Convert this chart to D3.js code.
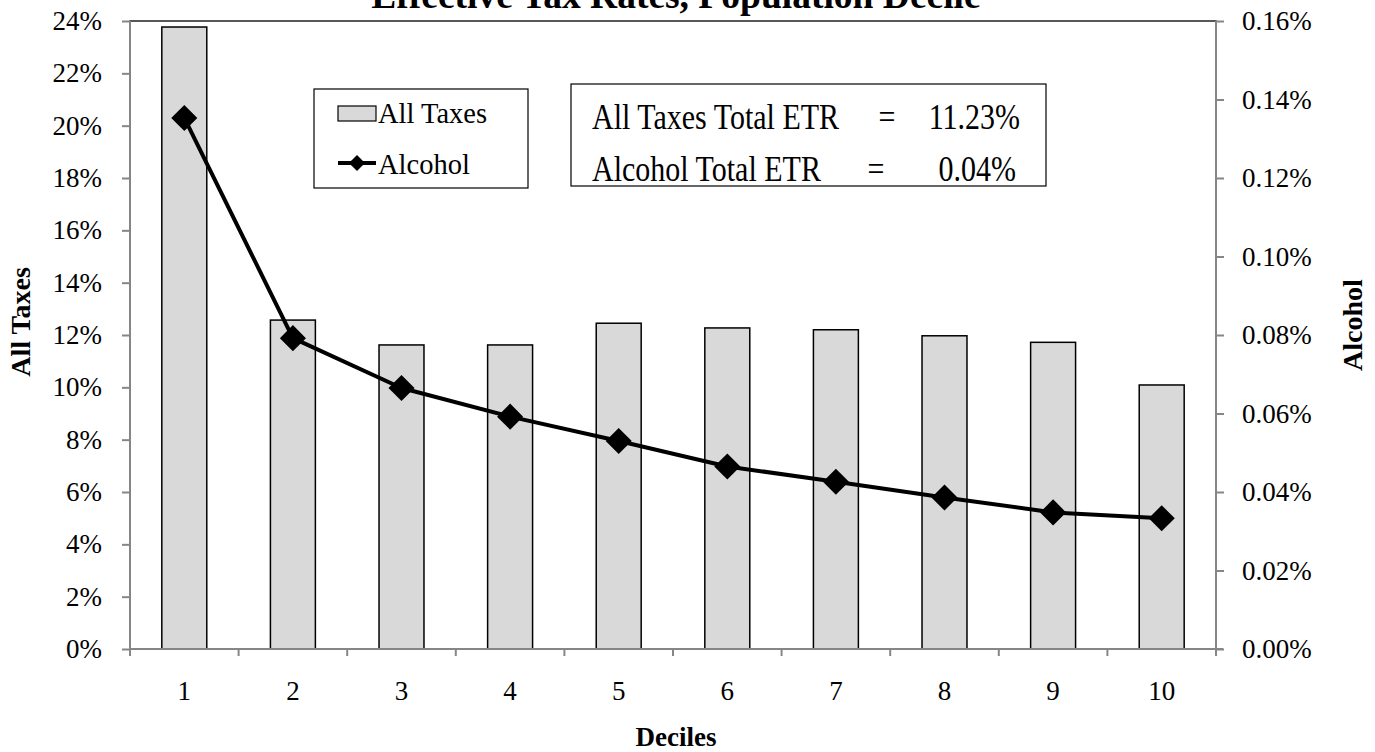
<!DOCTYPE html>
<html><head><meta charset="utf-8">
<script src="https://cdn.jsdelivr.net/npm/d3@7"></script>
<style>
html,body{margin:0;padding:0;background:#fff;}
svg{display:block;font-family:"Liberation Serif","Times New Roman",serif;}
</style></head>
<body><svg id="c" width="1375" height="752"></svg>
<script>
const deciles = ["1","2","3","4","5","6","7","8","9","10"];
const allTaxes = [23.77, 12.57, 11.62, 11.62, 12.45, 12.27, 12.20, 11.97, 11.72, 10.09];
const alcohol = [0.1353, 0.0792, 0.0665, 0.0592, 0.0530, 0.0465, 0.0426, 0.0386, 0.0348, 0.0333];
const leftTicks = [0,2,4,6,8,10,12,14,16,18,20,22,24];
const rightTicks = [0,0.02,0.04,0.06,0.08,0.10,0.12,0.14,0.16];
const title = "Effective Tax Rates, Population Decile";
const statLabels = ["All Taxes Total ETR", "Alcohol Total ETR"];
const statValues = ["11.23%", "0.04%"];
const seriesNames = ["All Taxes", "Alcohol"];

const svg = d3.select("#c");
const FONT = '"Liberation Serif","Times New Roman",serif';
const L = 130, R = 1216, T = 21, B = 649;
const x = d3.scaleBand().domain(deciles).range([L, R]).paddingInner(0.586).paddingOuter(0.293);
const xb = d3.scaleBand().domain(deciles).range([L, R]);
const yL = d3.scaleLinear().domain([0, 24]).range([B, T]);
const yR = d3.scaleLinear().domain([0, 0.16]).range([B, T]);
const gray = "#868686";

// title
svg.append("text").attr("x", 676).attr("y", 8).attr("text-anchor", "middle")
  .attr("font-size", 37.5).attr("font-weight", "bold").text(title);

// plot border
svg.append("rect").attr("x", L).attr("y", T).attr("width", R - L).attr("height", B - T)
  .attr("fill", "none").attr("stroke", "#222").attr("stroke-width", 1.5);

// bars
svg.append("g").selectAll("rect").data(allTaxes).join("rect")
  .attr("x", (d, i) => x(deciles[i])).attr("y", d => yL(d))
  .attr("width", x.bandwidth()).attr("height", d => B - yL(d))
  .attr("fill", "#d9d9d9").attr("stroke", "#000").attr("stroke-width", 1.5);

// axes
function styleAxis(g) {
  g.attr("font-family", FONT);
  g.selectAll(".domain").attr("stroke", gray).attr("stroke-width", 2);
  g.selectAll(".tick line").attr("stroke", gray).attr("stroke-width", 2);
  g.selectAll("text").attr("font-family", FONT).attr("font-size", 27).attr("fill", "#000");
}
const gl = svg.append("g").attr("transform", `translate(${L},0)`)
  .call(d3.axisLeft(yL).tickValues(leftTicks).tickFormat(d => d + "%").tickSize(8).tickPadding(20).tickSizeOuter(0));
styleAxis(gl);
const gr = svg.append("g").attr("transform", `translate(${R},0)`)
  .call(d3.axisRight(yR).tickValues(rightTicks).tickFormat(d => d.toFixed(2) + "%").tickSize(8).tickPadding(18).tickSizeOuter(0));
styleAxis(gr);
const gb = svg.append("g").attr("transform", `translate(0,${B})`)
  .call(d3.axisBottom(x).tickSize(0).tickPadding(32));
styleAxis(gb);
gb.select(".domain").attr("d", `M${L},0H${R + 7}`);
gb.append("g").selectAll("line").data(deciles.concat(["end"])).join("line")
  .attr("x1", (d, i) => i < deciles.length ? xb(d) : R)
  .attr("x2", (d, i) => i < deciles.length ? xb(d) : R)
  .attr("y1", 0).attr("y2", 7).attr("stroke", gray).attr("stroke-width", 2);
gl.select(".domain").attr("d", `M0,${B + 7}V${T}`);
gr.select(".domain").attr("d", `M0,${B + 7}V${T}`);

// line + markers
const line = d3.line().x((d, i) => x(deciles[i]) + x.bandwidth() / 2).y(d => yR(d));
svg.append("path").datum(alcohol).attr("d", line).attr("fill", "none")
  .attr("stroke", "#000").attr("stroke-width", 4).attr("stroke-linejoin", "round");
const diamond = d3.symbol().type(d3.symbolSquare).size(340);
svg.append("g").selectAll("path").data(alcohol).join("path")
  .attr("d", diamond())
  .attr("transform", (d, i) => `translate(${x(deciles[i]) + x.bandwidth() / 2},${yR(d)}) rotate(45)`)
  .attr("fill", "#000");

// axis titles
svg.append("text").attr("x", 676).attr("y", 746).attr("text-anchor", "middle")
  .attr("font-size", 27).attr("font-weight", "bold").text("Deciles");
svg.append("text").attr("transform", "translate(30,322) rotate(-90)").attr("text-anchor", "middle")
  .attr("font-size", 28).attr("font-weight", "bold").text(seriesNames[0]);
svg.append("text").attr("transform", "translate(1362,325) rotate(-90)").attr("text-anchor", "middle")
  .attr("font-size", 28).attr("font-weight", "bold").text(seriesNames[1]);

// legend
const lg = svg.append("g");
lg.append("rect").attr("x", 314).attr("y", 89).attr("width", 214).attr("height", 99)
  .attr("fill", "#fff").attr("stroke", "#000").attr("stroke-width", 1.2);
lg.append("rect").attr("x", 338).attr("y", 106).attr("width", 38).attr("height", 15)
  .attr("fill", "#d9d9d9").attr("stroke", "#000").attr("stroke-width", 1.2);
lg.append("text").attr("x", 378).attr("y", 123).attr("font-size", 28.5).text(seriesNames[0]);
lg.append("line").attr("x1", 338).attr("x2", 376).attr("y1", 163).attr("y2", 163)
  .attr("stroke", "#000").attr("stroke-width", 4);
lg.append("path").attr("d", d3.symbol().type(d3.symbolSquare).size(130)())
  .attr("transform", "translate(357,163) rotate(45)").attr("fill", "#000");
lg.append("text").attr("x", 378).attr("y", 174).attr("font-size", 28.5).text(seriesNames[1]);

// stats box
const sg = svg.append("g");
sg.append("rect").attr("x", 571).attr("y", 84).attr("width", 475).attr("height", 102)
  .attr("fill", "#fff").attr("stroke", "#000").attr("stroke-width", 1.2);
const eqX = [887, 876];
const valX = [1020, 1016];
statLabels.forEach((s, i) => {
  const yy = 129 + i * 52;
  const t = (xx) => `translate(${xx},${yy}) scale(1,1.18)`;
  sg.append("text").attr("transform", t(592)).attr("font-size", 30).text(s);
  sg.append("text").attr("transform", t(eqX[i])).attr("font-size", 30).attr("text-anchor", "middle").text("=");
  sg.append("text").attr("transform", t(valX[i])).attr("font-size", 30).attr("text-anchor", "end").text(statValues[i]);
});
</script></body></html>
